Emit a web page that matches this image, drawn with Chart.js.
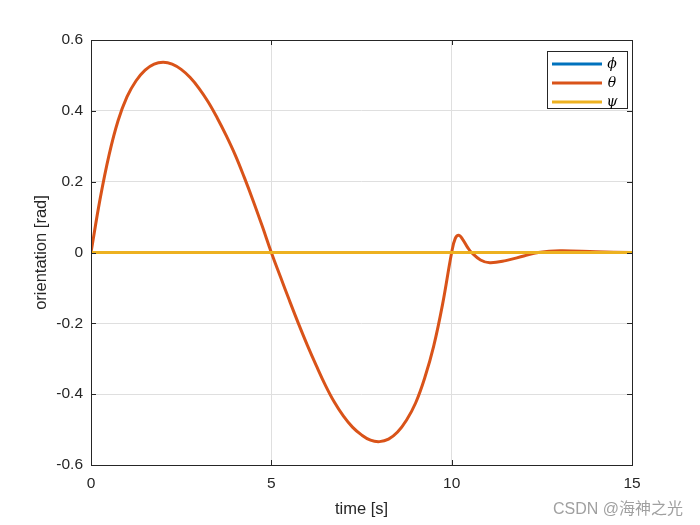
<!DOCTYPE html>
<html>
<head>
<meta charset="utf-8">
<script src="https://cdn.jsdelivr.net/npm/chart.js@4"></script>
<style>
  body { margin: 0; background: #fff; }
  #wrap { position: relative; width: 700px; height: 525px; }
  #mark { position: absolute; left: 553px; top: 495px; font: 16px "Liberation Sans", "Noto Sans CJK SC", sans-serif; color: #a0a0a0; white-space: nowrap; }
</style>
</head>
<body>
<div id="wrap">
  <canvas id="c" width="700" height="525"></canvas>
  <div id="mark">CSDN @海神之光</div>
</div>
<script>
// time samples [s] and theta values [rad]
const time = [0, 0.25, 0.5, 0.75, 1.0, 1.25, 1.5, 1.75, 2.0, 2.25, 2.5, 2.75, 3.0, 3.25, 3.5, 3.75, 4.0, 4.25, 4.5, 4.75,
  5.0, 5.25, 5.5, 5.75, 6.0, 6.25, 6.5, 6.75, 7.0, 7.25, 7.5, 7.75, 8.0, 8.25, 8.5, 8.75, 9.0, 9.25, 9.5, 9.75,
  10.0, 10.1, 10.2, 10.3, 10.45, 10.55, 10.8, 11.06, 11.5, 12.0, 12.4, 13.0, 14.0, 15.0];
const theta = [0, 0.15, 0.275, 0.372, 0.44, 0.485, 0.515, 0.532, 0.537, 0.532, 0.517, 0.494, 0.463, 0.425, 0.38, 0.33, 0.275, 0.212, 0.145, 0.074,
  0, -0.068, -0.135, -0.2, -0.262, -0.32, -0.375, -0.423, -0.462, -0.493, -0.515, -0.53, -0.534, -0.527, -0.507, -0.473, -0.425, -0.355, -0.265, -0.145,
  0, 0.04, 0.049, 0.038, 0.013, 0, -0.021, -0.029, -0.023, -0.01, 0, 0.005, 0.002, 0];
const flatTime = [0, 15];
const phi = [0, 0];
const psi = [0, 0];
const seriesNames = ['\u03D5', '\u03B8', '\u03C8'];
const xTicks = [0, 5, 10, 15];
const yTicks = [-0.6, -0.4, -0.2, 0, 0.2, 0.4, 0.6];

const colors = ['#0072BD', '#D95319', '#EDB120'];
const pts = (xs, ys) => xs.map((x, i) => ({ x: x, y: ys[i] }));

// box + inward ticks + legend, matlab style
const matlabAxes = {
  id: 'matlabAxes',
  afterDraw(chart) {
    const ctx = chart.ctx;
    const a = chart.chartArea;
    const xs = chart.scales.x, ys = chart.scales.y;
    ctx.save();
    ctx.strokeStyle = '#262626';
    ctx.lineWidth = 1;
    ctx.strokeRect(a.left + 0.5, a.top + 0.5, a.right - a.left, a.bottom - a.top);
    ctx.beginPath();
    xTicks.forEach(v => {
      const px = Math.round(xs.getPixelForValue(v)) + 0.5;
      ctx.moveTo(px, a.bottom); ctx.lineTo(px, a.bottom - 5);
      ctx.moveTo(px, a.top); ctx.lineTo(px, a.top + 5);
    });
    yTicks.forEach(v => {
      const py = Math.round(ys.getPixelForValue(v)) + 0.5;
      ctx.moveTo(a.left, py); ctx.lineTo(a.left + 5, py);
      ctx.moveTo(a.right, py); ctx.lineTo(a.right - 5, py);
    });
    ctx.stroke();

    // legend
    const lx = 547, ly = 51, lw = 80, lh = 57;
    ctx.fillStyle = '#fff';
    ctx.fillRect(lx, ly, lw, lh);
    ctx.strokeStyle = '#262626';
    ctx.strokeRect(lx + 0.5, ly + 0.5, lw, lh);
    ctx.font = 'italic 14px "DejaVu Serif", serif';
    ctx.textBaseline = 'middle';
    ctx.textAlign = 'center';
    chart.data.datasets.forEach((ds, i) => {
      const y = ly + 13 + i * 19;
      ctx.strokeStyle = ds.borderColor;
      ctx.lineWidth = 3;
      ctx.beginPath();
      ctx.moveTo(552, y); ctx.lineTo(602, y);
      ctx.stroke();
      ctx.fillStyle = '#000';
      ctx.fillText(ds.label, 612, y);
    });
    ctx.restore();
  }
};

new Chart(document.getElementById('c'), {
  type: 'line',
  data: {
    datasets: [
      { label: seriesNames[0], data: pts(flatTime, phi), borderColor: colors[0], order: 3 },
      { label: seriesNames[1], data: pts(time, theta), borderColor: colors[1], order: 2, tension: 0.4 },
      { label: seriesNames[2], data: pts(flatTime, psi), borderColor: colors[2], order: 1 }
    ]
  },
  options: {
    responsive: false,
    animation: false,
    elements: { point: { radius: 0 }, line: { borderWidth: 3 } },
    layout: { padding: { left: 30, right: 68, top: 40, bottom: 4 } },
    plugins: { legend: { display: false }, tooltip: { enabled: false } },
    scales: {
      x: {
        type: 'linear', min: 0, max: 15,
        afterBuildTicks: s => { s.ticks = xTicks.map(v => ({ value: v })); },
        afterFit: s => { s.height = 56; },
        ticks: { color: '#262626', font: { size: 15.5, family: '"Liberation Sans", Arial, sans-serif' }, padding: 9, maxRotation: 0 },
        grid: { color: '#dfdfdf', drawTicks: false },
        border: { display: false },
        title: { display: true, text: 'time [s]', color: '#262626', font: { size: 16.5, family: '"Liberation Sans", Arial, sans-serif' }, padding: { top: 4, bottom: 2 } }
      },
      y: {
        type: 'linear', min: -0.6, max: 0.6,
        afterBuildTicks: s => { s.ticks = yTicks.map(v => ({ value: v })); },
        afterFit: s => { s.width = 61; },
        ticks: {
          color: '#262626', font: { size: 15.5, family: '"Liberation Sans", Arial, sans-serif' }, padding: 8,
          callback: v => Math.abs(v) < 1e-9 ? '0' : v.toFixed(1)
        },
        grid: { color: '#dfdfdf', drawTicks: false },
        border: { display: false },
        title: { display: true, text: 'orientation [rad]', color: '#262626', font: { size: 16.5, family: '"Liberation Sans", Arial, sans-serif' }, padding: { top: 2, bottom: 4 } }
      }
    }
  },
  plugins: [matlabAxes]
});
</script>
</body>
</html>
